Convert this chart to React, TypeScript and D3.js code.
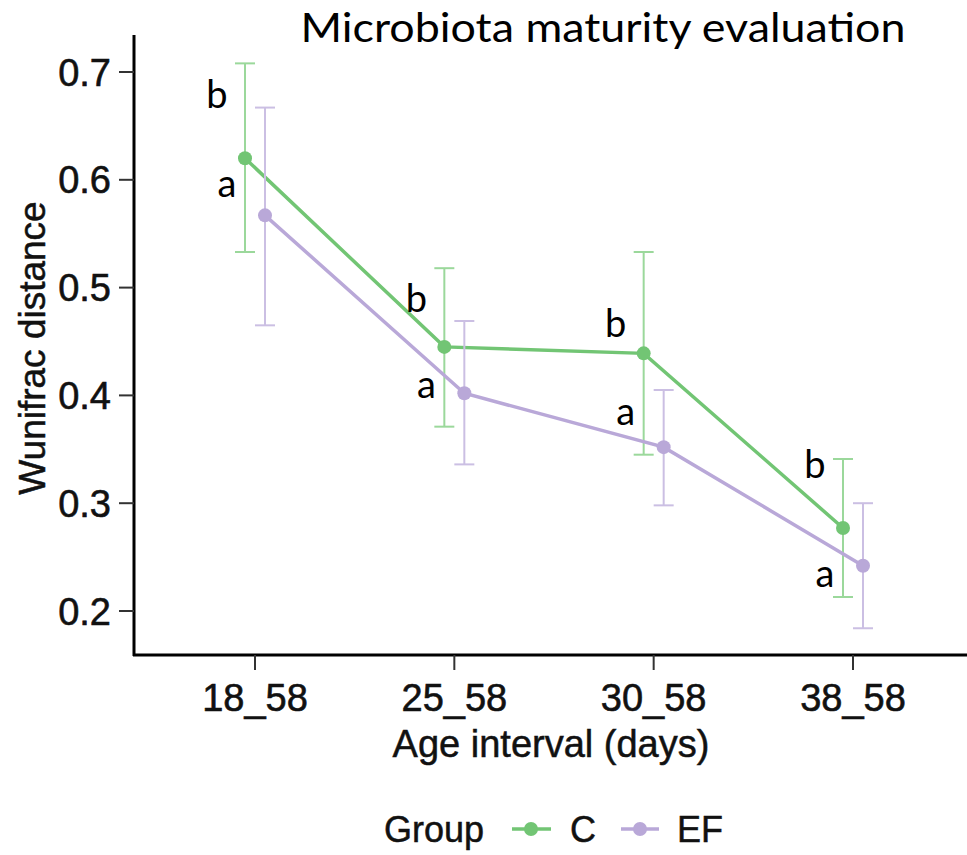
import React from "react";
import * as d3 from "d3";

const intervals = ["18_58", "25_58", "30_58", "38_58"];
const groups = ["C", "EF"];
const meanC = [0.62, 0.445, 0.439, 0.277];
const lowC = [0.533, 0.371, 0.345, 0.213];
const highC = [0.708, 0.518, 0.533, 0.341];
const meanEF = [0.567, 0.402, 0.352, 0.242];
const lowEF = [0.465, 0.336, 0.298, 0.184];
const highEF = [0.667, 0.469, 0.405, 0.3];
const lettersC = ["b", "b", "b", "b"];
const lettersEF = ["a", "a", "a", "a"];
// where the letters sit, in y units
const letterYC = [0.667, 0.477, 0.454, 0.323];
const letterYEF = [0.584, 0.398, 0.373, 0.222];
const yTicks = [0.2, 0.3, 0.4, 0.5, 0.6, 0.7];

const W = 967, H = 855;
const green = "#72c574";
const greenBar = "#9bd89b";
const purple = "#b9a8d8";
const purpleBar = "#cbbfe3";
const axisFont = "Liberation Sans";
const calibri = "Lato";

export default function App() {
  const x = d3.scalePoint().domain(intervals).range([255, 853]);
  const y = d3.scaleLinear().domain([0.2, 0.7]).range([611, 72]);
  const dodge = 10;

  const series = [
    { name: groups[0], color: green, bar: greenBar, mean: meanC, low: lowC, high: highC, letters: lettersC, ly: letterYC, dx: -dodge, lx: -38 },
    { name: groups[1], color: purple, bar: purpleBar, mean: meanEF, low: lowEF, high: highEF, letters: lettersEF, ly: letterYEF, dx: dodge, lx: -28 },
  ];

  return (
    <svg width={W} height={H} style={{ position: "absolute", left: 0, top: 0, background: "#fff" }}>
      <text x={603} y={42} fontFamily={calibri} fontSize={41} textAnchor="middle"
        textLength={605} lengthAdjust="spacingAndGlyphs" fill="#000">
        Microbiota maturity evaluation
      </text>

      {/* y axis */}
      <line x1={134} x2={134} y1={35} y2={656} stroke="#000" strokeWidth={3} />
      {yTicks.map(t => (
        <g key={t} transform={`translate(0,${y(t)})`}>
          <line x1={119} x2={134} stroke="#333" strokeWidth={2} />
          <text x={111} dy="0.36em" textAnchor="end" fontFamily={axisFont} fontSize={38}
            fill="#111" stroke="#111" strokeWidth={0.6}>
            {d3.format(".1f")(t)}
          </text>
        </g>
      ))}
      <text transform={`translate(45,348) rotate(-90)`} textAnchor="middle" fontFamily={axisFont} fontSize={37}
        fill="#111" stroke="#111" strokeWidth={0.5}>
        Wunifrac distance
      </text>

      {/* x axis */}
      <line x1={133} x2={W} y1={655} y2={655} stroke="#000" strokeWidth={3} />
      {intervals.map(c => (
        <g key={c} transform={`translate(${x(c)},0)`}>
          <line y1={655} y2={670} stroke="#333" strokeWidth={2} />
          <text y={711} textAnchor="middle" fontFamily={axisFont} fontSize={38}
            fill="#111" stroke="#111" strokeWidth={0.6}>{c}</text>
        </g>
      ))}
      <text x={551} y={757} textAnchor="middle" fontFamily={axisFont} fontSize={38}
        fill="#111" stroke="#111" strokeWidth={0.5}>
        Age interval (days)
      </text>

      {series.map(s => (
        <g key={s.name}>
          {s.mean.map((m, i) => {
            const cx = x(intervals[i])! + s.dx;
            return (
              <g key={i}>
                <line x1={cx} x2={cx} y1={y(s.low[i])} y2={y(s.high[i])} stroke={s.bar} strokeWidth={2} />
                <line x1={cx - 10} x2={cx + 10} y1={y(s.low[i])} y2={y(s.low[i])} stroke={s.bar} strokeWidth={2} />
                <line x1={cx - 10} x2={cx + 10} y1={y(s.high[i])} y2={y(s.high[i])} stroke={s.bar} strokeWidth={2} />
              </g>
            );
          })}
          <path
            d={d3.line<number>().x((d, i) => x(intervals[i])! + s.dx).y(d => y(d))(s.mean) || ""}
            fill="none" stroke={s.color} strokeWidth={3.5} />
          {s.mean.map((m, i) => (
            <circle key={i} cx={x(intervals[i])! + s.dx} cy={y(m)} r={7} fill={s.color} />
          ))}
          {s.letters.map((l, i) => (
            <text key={i} x={x(intervals[i])! + s.lx} y={y(s.ly[i])} textAnchor="middle"
              fontFamily={calibri} fontSize={38} fill="#000">{l}</text>
          ))}
        </g>
      ))}

      {/* legend */}
      <g fontFamily={axisFont} fontSize={36} fill="#111" stroke="#111" strokeWidth={0.5}>
        <text x={384} y={842}>Group</text>
        <text x={570} y={842}>{groups[0]}</text>
        <text x={677} y={842}>{groups[1]}</text>
      </g>
      <line x1={512} x2={551} y1={829} y2={829} stroke={green} strokeWidth={3.5} />
      <circle cx={531} cy={829} r={7} fill={green} />
      <line x1={621} x2={659} y1={829} y2={829} stroke={purple} strokeWidth={3.5} />
      <circle cx={640} cy={829} r={7} fill={purple} />
    </svg>
  );
}
